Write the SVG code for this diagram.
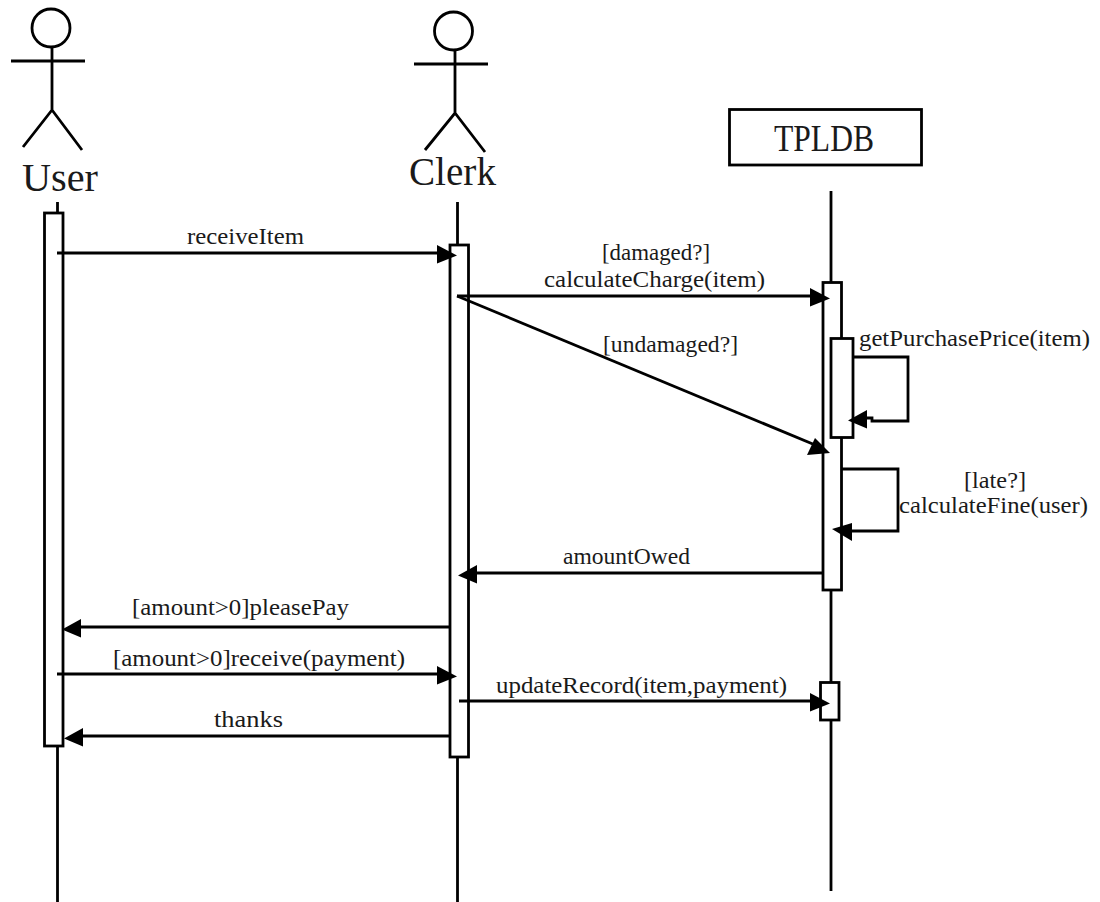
<svg xmlns="http://www.w3.org/2000/svg" width="1100" height="902" viewBox="0 0 1100 902">
<style>
.s{fill:none;stroke:#000;stroke-width:2.8}
.b{fill:#fff;stroke:#000;stroke-width:2.8}
.m{fill:none;stroke:#000;stroke-width:2.8}
text{font-family:"Liberation Serif","Times New Roman",serif;fill:#1a1a1a;font-size:23px}
.a{font-size:39px}
.t{font-size:38px}
</style>
<defs>
<marker id="ar" markerUnits="userSpaceOnUse" markerWidth="1" markerHeight="1" overflow="visible" orient="0"><path d="M10,2.500 L-10,-8 L-10,10.500 Z" fill="#000"/></marker>
<marker id="al" markerUnits="userSpaceOnUse" markerWidth="1" markerHeight="1" overflow="visible" orient="0"><path d="M-10,2.500 L9,-8 L9,10.500 Z" fill="#000"/></marker>
<marker id="au" markerUnits="userSpaceOnUse" markerWidth="1" markerHeight="1" overflow="visible" orient="0"><path d="M-10,-2 L10,-8 L10,10 Z" fill="#000"/></marker>
<marker id="ad" markerUnits="userSpaceOnUse" markerWidth="1" markerHeight="1" overflow="visible" orient="0"><path d="M10,6 L-13,8 L-5,-9 Z" fill="#000"/></marker>
</defs>
<g id="user">
<circle class="s" cx="51" cy="28" r="19"/>
<path class="s" d="M52,47V110M11,61H85M23,147L52,110L82,150"/>
<text class="a" x="22" y="191" textLength="76" lengthAdjust="spacingAndGlyphs">User</text>
<path class="s" d="M57.5,202V213M57.5,746V902"/>
<rect class="b" x="44.5" y="213" width="18.500" height="533"/>
</g>
<g id="clerk">
<circle class="s" cx="453.500" cy="31" r="19"/>
<path class="s" d="M455,50V113M414,64H488M425,150L455,113L485,152"/>
<text class="a" x="409" y="185" textLength="87" lengthAdjust="spacingAndGlyphs">Clerk</text>
<path class="s" d="M457.500,202V245M457.500,757V902"/>
<rect class="b" x="450" y="245" width="18.500" height="512"/>
</g>
<g id="tpldb">
<rect class="b" x="729.500" y="109.500" width="192" height="55.500"/>
<text class="t" x="774" y="151" textLength="100" lengthAdjust="spacingAndGlyphs">TPLDB</text>
<path class="s" d="M831,191V282M831,590V682M831,720V891"/>
<rect class="b" x="823" y="282.500" width="18.500" height="307.500"/>
<rect class="b" x="831" y="338.500" width="22" height="99"/>
<rect class="b" x="820.500" y="682.500" width="18.500" height="37.500"/>
</g>
<g id="connectors">
<line class="m" x1="57" y1="253" x2="447" y2="253" marker-end="url(#ar)"/>
<line class="m" x1="457" y1="296" x2="820" y2="296" marker-end="url(#ar)"/>
<line class="m" x1="457" y1="296" x2="820" y2="447" marker-end="url(#ad)"/>
<path class="m" d="M853,357H908V421H872V418H858" marker-end="url(#al)"/>
<path class="m" d="M842,469H898V531H842" marker-end="url(#au)"/>
<line class="m" x1="823" y1="573" x2="468" y2="573" marker-end="url(#al)"/>
<line class="m" x1="449" y1="627" x2="72" y2="627" marker-end="url(#al)"/>
<line class="m" x1="57" y1="674" x2="447" y2="674" marker-end="url(#ar)"/>
<line class="m" x1="459" y1="701" x2="820" y2="701" marker-end="url(#ar)"/>
<line class="m" x1="449" y1="736" x2="74" y2="736" marker-end="url(#al)"/>
</g>
<g id="labels">
<text x="187" y="244" textLength="117" lengthAdjust="spacingAndGlyphs">receiveItem</text>
<text x="602" y="260" textLength="108" lengthAdjust="spacingAndGlyphs">[damaged?]</text>
<text x="544" y="287" textLength="221" lengthAdjust="spacingAndGlyphs">calculateCharge(item)</text>
<text x="603" y="352" textLength="135" lengthAdjust="spacingAndGlyphs">[undamaged?]</text>
<text x="859" y="346" textLength="231" lengthAdjust="spacingAndGlyphs">getPurchasePrice(item)</text>
<text x="964" y="488" textLength="62" lengthAdjust="spacingAndGlyphs">[late?]</text>
<text x="899" y="513" textLength="189" lengthAdjust="spacingAndGlyphs">calculateFine(user)</text>
<text x="563" y="564" textLength="127" lengthAdjust="spacingAndGlyphs">amountOwed</text>
<text x="132" y="615" textLength="217" lengthAdjust="spacingAndGlyphs">[amount&gt;0]pleasePay</text>
<text x="113" y="666" textLength="292" lengthAdjust="spacingAndGlyphs">[amount&gt;0]receive(payment)</text>
<text x="496" y="693" textLength="291" lengthAdjust="spacingAndGlyphs">updateRecord(item,payment)</text>
<text x="214" y="727" textLength="69" lengthAdjust="spacingAndGlyphs">thanks</text>
</g>
</svg>
